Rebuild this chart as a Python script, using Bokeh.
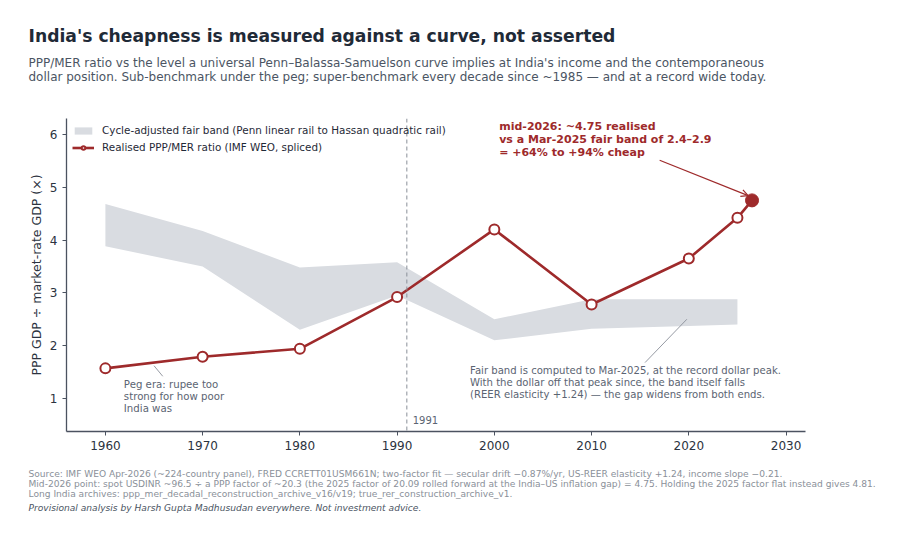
import numpy as np
from bokeh.plotting import figure
from bokeh.models import Range1d, Span, Label, Arrow, OpenHead, Legend, LegendItem, ColumnDataSource, Title
from bokeh.embed import file_html
from bokeh.resources import INLINE

# realised PPP/MER ratio (IMF WEO, spliced)
years = [1960, 1970, 1980, 1990, 2000, 2010, 2020, 2025]
ratio = [1.57, 1.79, 1.94, 2.92, 4.20, 2.78, 3.65, 4.42]
now_year = 2026.5
now_ratio = 4.75

# cycle-adjusted fair band
band_years = [1960, 1970, 1980, 1990, 2000, 2010, 2020, 2025]
band_lo = [3.88, 3.50, 2.30, 2.95, 2.10, 2.32, 2.37, 2.40]
band_hi = [4.68, 4.17, 3.48, 3.58, 2.50, 2.88, 2.88, 2.88]

x_ticks = [1960, 1970, 1980, 1990, 2000, 2010, 2020, 2030]
y_ticks = [1, 2, 3, 4, 5, 6]

title = "India's cheapness is measured against a curve, not asserted"
subtitle = [
    "PPP/MER ratio vs the level a universal Penn–Balassa-Samuelson curve implies at India's income and the contemporaneous",
    "dollar position. Sub-benchmark under the peg; super-benchmark every decade since ~1985 — and at a record wide today.",
]
footer = [
    "Source: IMF WEO Apr-2026 (~224-country panel), FRED CCRETT01USM661N; two-factor fit — secular drift −0.87%/yr, US-REER elasticity +1.24, income slope −0.21.",
    "Mid-2026 point: spot USDINR ~96.5 ÷ a PPP factor of ~20.3 (the 2025 factor of 20.09 rolled forward at the India–US inflation gap) = 4.75. Holding the 2025 factor flat instead gives 4.81.",
    "Long India archives: ppp_mer_decadal_reconstruction_archive_v16/v19; true_rer_construction_archive_v1.",
]
credit = "Provisional analysis by Harsh Gupta Madhusudan everywhere. Not investment advice."

RED = "#9e2a2b"
BAND = "#d9dce1"
INK = "#1f2a37"
GREY = "#5b6472"
FOOT = "#8a9099"
FONT = "DejaVu Sans"

p = figure(width=900, height=539, output_backend="svg", toolbar_location=None,
           x_range=Range1d(1956, 2032), y_range=Range1d(0.375, 6.3))
p.min_border_left = 66
p.min_border_right = 95
p.min_border_top = 118
p.min_border_bottom = 108
p.outline_line_color = None
p.grid.visible = False
p.background_fill_color = "white"

for ax in (p.xaxis[0], p.yaxis[0]):
    ax.axis_line_color = "#4b5260"
    ax.axis_line_width = 1.3
    ax.major_tick_line_color = "#4b5260"
    ax.major_tick_in = 0
    ax.major_tick_out = 4
    ax.minor_tick_line_color = None
    ax.major_label_text_font = FONT
    ax.major_label_text_font_size = "12px"
    ax.major_label_text_color = "#2b3340"
p.xaxis.ticker = x_ticks
p.yaxis.ticker = y_ticks
p.yaxis.axis_label = "PPP GDP ÷ market-rate GDP (×)"
p.yaxis.axis_label_text_font = FONT
p.yaxis.axis_label_text_font_style = "normal"
p.yaxis.axis_label_text_font_size = "12.5px"
p.yaxis.axis_label_text_color = "#2b3340"
p.yaxis.axis_label_standoff = 3

band = p.varea(x=band_years, y1=band_lo, y2=band_hi, fill_color=BAND, fill_alpha=1.0)

p.add_layout(Span(location=1991, dimension="height", line_color="#8a8f98",
                  line_dash="4 3", line_width=1))

src = ColumnDataSource(dict(x=years + [now_year], y=ratio + [now_ratio]))
line = p.line("x", "y", source=src, line_color=RED, line_width=2.6)
dots = p.scatter(years, ratio, size=10, fill_color="white", line_color=RED, line_width=2)
p.scatter([now_year], [now_ratio], size=13, fill_color=RED, line_color=RED)

legend = Legend(items=[
    LegendItem(label="Cycle-adjusted fair band (Penn linear rail to Hassan quadratic rail)", renderers=[band]),
    LegendItem(label="Realised PPP/MER ratio (IMF WEO, spliced)", renderers=[line, dots]),
], location="top_left")
legend.border_line_color = None
legend.background_fill_alpha = 0
legend.label_text_font = FONT
legend.label_text_font_size = "10.4px"
legend.label_text_color = INK
legend.glyph_width = 22
legend.glyph_height = 9
legend.label_height = 12
legend.spacing = 5
legend.padding = 5
legend.margin = 6
legend.label_standoff = 8
p.add_layout(legend)

# annotations
p.segment(x0=[1965.0, 2015.5], y0=[1.62, 1.68], x1=[1965.9, 2019.8], y1=[1.42, 2.50],
          line_color="#8a8f98", line_width=0.9)
p.add_layout(Label(x=1961.9, y=1.36, text="Peg era: rupee too\nstrong for how poor\nIndia was",
                   text_font=FONT, text_font_size="10.2px", text_color=GREY, text_baseline="top",
                   text_line_height=1.08))
p.add_layout(Label(x=1997.5, y=1.63,
                   text="Fair band is computed to Mar-2025, at the record dollar peak.\n"
                        "With the dollar off that peak since, the band itself falls\n"
                        "(REER elasticity +1.24) — the gap widens from both ends.",
                   text_font=FONT, text_font_size="10.1px", text_color=GREY, text_baseline="top",
                   text_line_height=1.06))
p.add_layout(Label(x=1991.6, y=0.60, text="1991", text_font=FONT, text_font_size="10px",
                   text_color=GREY, text_baseline="middle"))
p.add_layout(Label(x=2000.5, y=6.28,
                   text="mid-2026: ~4.75 realised\nvs a Mar-2025 fair band of 2.4–2.9\n= +64% to +94% cheap",
                   text_font=FONT, text_font_size="11px", text_font_style="bold", text_color=RED,
                   text_baseline="top", text_line_height=1.0))
p.add_layout(Arrow(end=OpenHead(size=7, line_color=RED, line_width=1.2),
                   x_start=2017.0, y_start=5.51, x_end=now_year - 0.4, y_end=now_ratio + 0.09,
                   line_color=RED, line_width=1.2))


def heading(s, size, color, style="normal", where="above", standoff=0, lh=1.0):
    t = Title(text=s, align="left", offset=-38, text_font=FONT, text_font_size=size,
              text_color=color, text_font_style=style, standoff=standoff,
              text_line_height=lh)
    p.add_layout(t, where)


# above panels stack outward from the frame
heading(" ", "1px", "white", standoff=31)
heading("\n".join(subtitle), "12px", "#4b5563", lh=1.07)
heading(title, "17.2px", INK, "bold", standoff=15)

heading(" ", "1px", "white", where="below", standoff=11)
heading("\n".join(footer), "9.1px", FOOT, where="below", lh=1.04)
heading(credit, "9.1px", "#4b5563", "italic", where="below", standoff=2)

open("out.html", "w").write(file_html(p, INLINE))
